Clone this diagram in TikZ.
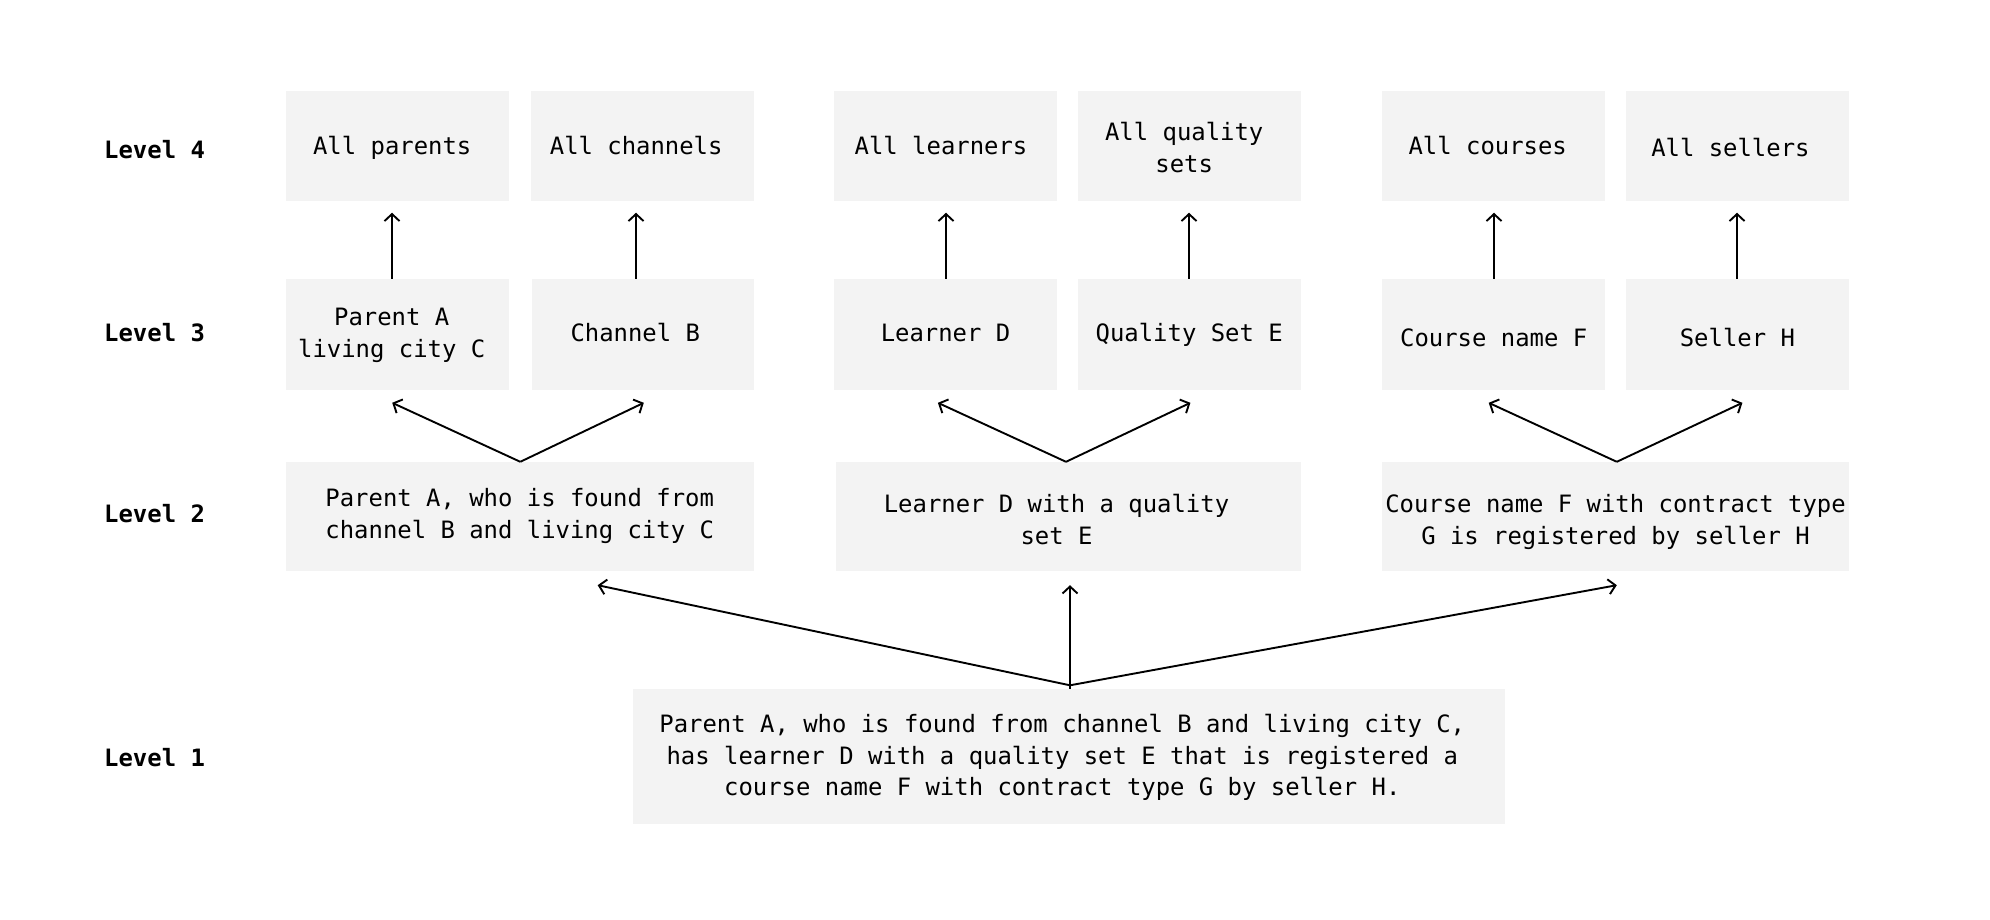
\documentclass[tikz,border=0pt]{standalone}
\usepackage{fontspec}
\setmainfont{DejaVu Sans Mono}
\usetikzlibrary{arrows.meta,calc}
\definecolor{boxgray}{RGB}{243,243,243}
\newcommand{\tsp}[1]{\hspace*{#1pt}}
\newcommand{\ml}[1]{\begin{tabular}{@{}c@{}}#1\end{tabular}}
\newcommand{\dn}[2]{\raisebox{0pt}[\dimexpr\height+#1pt\relax][\depth]{#2}}
\tikzset{
  box/.style={fill=boxgray, draw=none, inner sep=0pt,
    font=\fontsize{23.9}{31.7}\selectfont},
  lvl/.style={anchor=west, inner sep=0pt, font=\fontsize{23.9}{30}\selectfont\bfseries},
  arr/.style={-{Straight Barb[length=7pt,width=15pt]}, line width=1.9pt, line join=miter},
}
\begin{document}
\begin{tikzpicture}[x=1pt,y=-1pt]
\useasboundingbox (0,0) rectangle (1990,920);
% Level 4
\node[box, minimum width=223.4, minimum height=109.1] (l4a) at (397.2,146) {\dn{5}{\ml{All parents}}\tsp{10}};
\node[box, minimum width=223.3, minimum height=109.1] (l4b) at (642.2,146) {\dn{5}{\ml{All channels}}\tsp{12}};
\node[box, minimum width=223.4, minimum height=109.1] (l4c) at (945.5,146) {\dn{5}{\ml{All learners}}\tsp{9}};
\node[box, minimum width=223.3, minimum height=109.1] (l4d) at (1189.2,146) {\dn{8}{\ml{All quality\\sets}}\tsp{10}};
\node[box, minimum width=223.4, minimum height=109.1] (l4e) at (1493.7,146) {\dn{5}{\ml{All courses}}\tsp{12}};
\node[box, minimum width=223.3, minimum height=109.1] (l4f) at (1737.4,146) {\dn{9}{\ml{All sellers}}\tsp{14}};
% Level 3
\node[box, minimum width=223.4, minimum height=110.4] (l3a) at (397.2,334.4) {\dn{2}{\ml{Parent A\\living city C}}\tsp{11}};
\node[box, minimum width=222.0, minimum height=110.4] (l3b) at (642.8,334.4) {\dn{2.5}{\ml{Channel B}}\tsp{15}};
\node[box, minimum width=223.4, minimum height=110.4] (l3c) at (945.5,334.4) {\dn{2.5}{\ml{Learner D}}};
\node[box, minimum width=223.3, minimum height=110.4] (l3d) at (1189.2,334.4) {\dn{2.5}{\ml{Quality Set E}}};
\node[box, minimum width=223.4, minimum height=110.4] (l3e) at (1493.7,334.4) {\dn{12}{\ml{Course name F}}};
\node[box, minimum width=223.3, minimum height=110.4] (l3f) at (1737.4,334.4) {\dn{12}{\ml{Seller H}}};
% Level 2
\node[box, minimum width=468.3, minimum height=109] (l2a) at (519.7,516.5) {\ml{Parent A, who is found from\\channel B and living city C}};
\node[box, minimum width=464.5, minimum height=109] (l2b) at (1068.5,516.5) {\dn{12}{\ml{Learner D with a quality\\set E}}\tsp{24}};
\node[box, minimum width=467.0, minimum height=109] (l2c) at (1615.5,516.5) {\dn{12}{\ml{Course name F with contract type\\G is registered by seller H}}};
% Level 1
\node[box, minimum width=871.9, minimum height=134.6] (l1) at (1069.3,756.3) {\dn{3}{\ml{Parent A, who is found from channel B and living city C,\\has learner D with a quality set E that is registered a\\course name F with contract type G by seller H.}}\tsp{14}};
% Level labels
\node[lvl] (lab4) at (104,149.8) {Level 4};
\node[lvl] (lab3) at (104,332.5) {Level 3};
\node[lvl] (lab2) at (104,514) {Level 2};
\node[lvl] (lab1) at (104,757.6) {Level 1};
% Level 3 -> Level 4
\draw[arr] ($(l3a.north)+(-5.2,0)$) -- ($(l4a.south)+(-5.2,12)$);
\draw[arr] ($(l3b.north)+(-6.8,0)$) -- ($(l4b.south)+(-6.2,12)$);
\draw[arr] ($(l3c.north)+(0.5,0)$) -- ($(l4c.south)+(0.5,12)$);
\draw[arr] ($(l3d.north)+(-0.2,0)$) -- ($(l4d.south)+(-0.2,12)$);
\draw[arr] ($(l3e.north)+(0.3,0)$) -- ($(l4e.south)+(0.3,12)$);
\draw[arr] ($(l3f.north)+(-0.4,0)$) -- ($(l4f.south)+(-0.4,12)$);
% Level 2 -> Level 3
\draw[arr] ($(l2a.north)+(0.6,0)$) -- ($(l3a.south)+(-5,13)$);
\draw[arr] ($(l2a.north)+(0.6,0)$) -- ($(l3b.south)+(1,13)$);
\draw[arr] ($(l2b.north)+(-2.5,0)$) -- ($(l3c.south)+(-7.6,13)$);
\draw[arr] ($(l2b.north)+(-2.5,0)$) -- ($(l3d.south)+(1.2,13)$);
\draw[arr] ($(l2c.north)+(1.3,0)$) -- ($(l3e.south)+(-5,13)$);
\draw[arr] ($(l2c.north)+(1.3,0)$) -- ($(l3f.south)+(5,13)$);
% Level 1 -> Level 2
\coordinate (apex) at ($(l1.north)+(0.7,-3.5)$);
\draw[line width=1.9pt] ($(l1.north)+(0.7,0)$) -- (apex);
\draw[arr] (apex) -- ($(l2a.south)+(78,14)$);
\draw[arr] (apex) -- ($(l2b.south)+(1.5,14)$);
\draw[arr] (apex) -- ($(l2c.south)+(1.3,14)$);
\end{tikzpicture}
\end{document}
